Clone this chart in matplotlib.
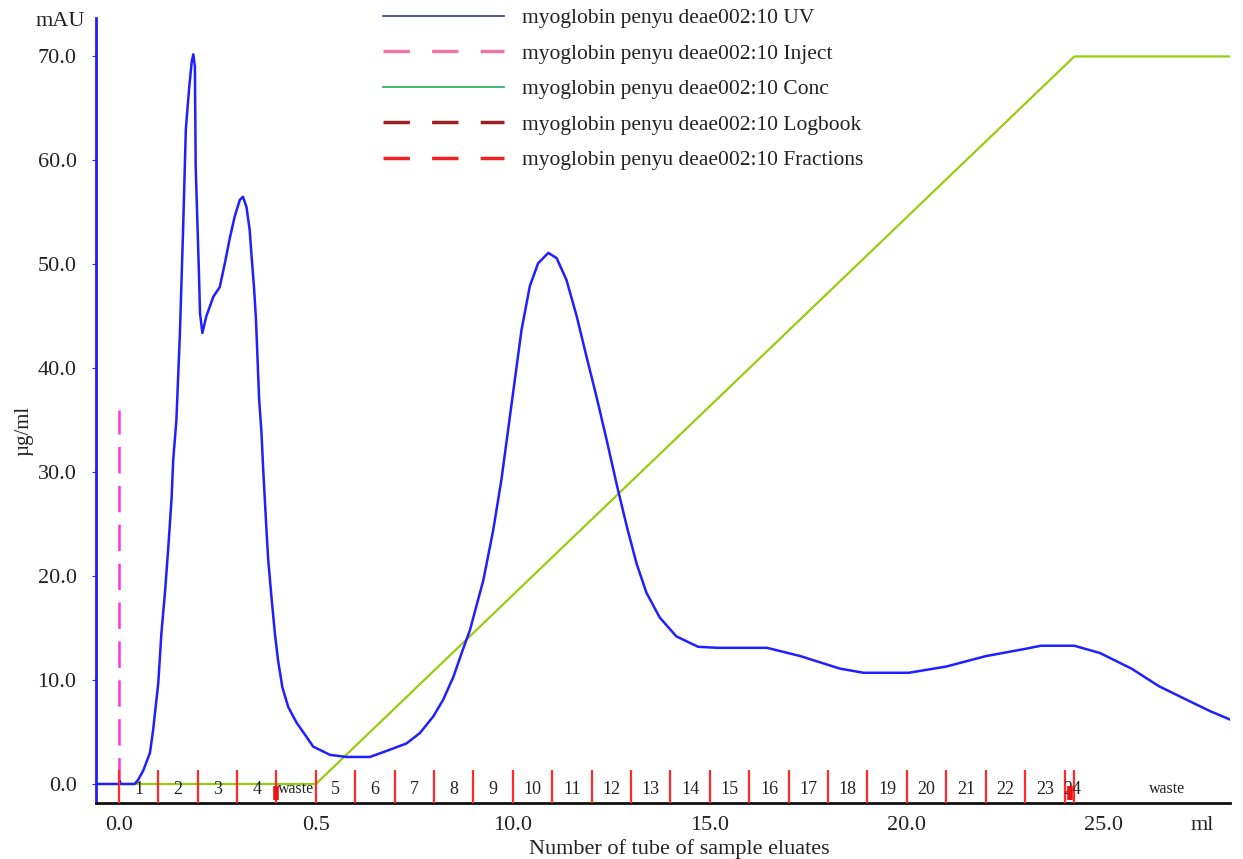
import matplotlib.pyplot as plt
from matplotlib.lines import Line2D

plt.rcParams['font.family'] = ['Liberation Serif', 'DejaVu Serif']
plt.rcParams['lines.scale_dashes'] = False

# UV trace (ml, mAU)
uv_ml = [-0.58, 0.0, 0.02, 0.05, 0.4, 0.49, 0.62, 0.79, 0.87, 1.0, 1.08, 1.17, 1.25, 1.34,
         1.38, 1.46, 1.55, 1.63, 1.70, 1.78, 1.85, 1.89, 1.93, 1.95, 2.03, 2.06, 2.12, 2.22,
         2.40, 2.56, 2.69, 2.82, 2.94, 3.07, 3.15, 3.24, 3.32, 3.37, 3.43, 3.48, 3.56, 3.62,
         3.66, 3.71, 3.75, 3.79, 3.88, 3.96, 4.04, 4.15, 4.30, 4.51, 4.75, 4.93, 5.36, 5.78,
         6.37, 6.88, 7.30, 7.64, 7.98, 8.23, 8.49, 8.70, 8.91, 9.25, 9.50, 9.71, 9.88, 10.05,
         10.22, 10.43, 10.64, 10.90, 11.11, 11.36, 11.62, 11.87, 12.12, 12.38, 12.63, 12.89,
         13.14, 13.39, 13.73, 14.15, 14.7, 15.2, 16.45, 17.3, 18.3, 18.9, 20.05, 21.0, 22.0,
         23.0, 23.4, 24.25, 24.9, 25.7, 26.4, 27.1, 27.7, 28.2]
uv_mau = [0, 0, 0.3, 0, 0, 0.4, 1.3, 3.0, 5.2, 9.7, 14.5, 18.4, 22.5, 27.6,
          31.2, 35.0, 43.4, 53.3, 63.0, 66.8, 69.5, 70.2, 69.0, 59.4, 49.5, 45.3, 43.4, 45.0,
          46.9, 47.8, 50.1, 52.6, 54.6, 56.2, 56.5, 55.5, 53.3, 50.7, 47.8, 44.7, 37.0, 33.8,
          30.5, 27.0, 24.2, 21.6, 17.7, 14.5, 11.9, 9.3, 7.4, 5.9, 4.6, 3.6, 2.8, 2.6,
          2.6, 3.3, 3.9, 4.9, 6.5, 8.1, 10.3, 12.6, 14.8, 19.6, 24.4, 29.3, 34.1, 38.9,
          43.7, 47.9, 50.1, 51.1, 50.6, 48.5, 45.0, 41.1, 37.3, 33.1, 28.9, 24.8,
          21.2, 18.4, 16.0, 14.2, 13.2, 13.1, 13.1, 12.3, 11.1, 10.7, 10.7, 11.3, 12.3,
          13.0, 13.3, 13.3, 12.6, 11.1, 9.4, 8.1, 7.0, 6.2]

# gradient (conc) trace
conc_ml = [0.0, 5.0, 24.25, 28.2]
conc_val = [0, 0, 70, 70]

# injection mark
inject_ml = 0.0
inject_top = 36

# fractions
frac_pos = [0, 1, 2, 3, 4, 5, 6, 7, 8, 9, 10, 11, 12, 13, 14, 15, 16, 17, 18, 19,
            20, 21, 22, 23, 24.0, 24.24]
frac_labels = ['1', '2', '3', '4', 'waste', '5', '6', '7', '8', '9', '10', '11', '12',
               '13', '14', '15', '16', '17', '18', '19', '20', '21', '22', '23', '24', 'waste']
frac_label_x = [0.5, 1.5, 2.5, 3.5, 4.5, 5.5, 6.5, 7.5, 8.5, 9.5, 10.5, 11.5, 12.5,
                13.5, 14.5, 15.5, 16.5, 17.5, 18.5, 19.5, 20.5, 21.5, 22.5, 23.5, 24.2, 26.6]
logbook_ml = [4.0, 24.15]

x_ticks = [0, 5, 10, 15, 20, 25, 27.5]
x_ticklabels = ['0.0', '0.5', '10.0', '15.0', '20.0', '25.0', 'ml']
y_ticks = [0, 10, 20, 30, 40, 50, 60, 70]

fig = plt.figure(figsize=(12.43, 8.59), dpi=100)
ax = fig.add_axes([96 / 1243, 1 - 803 / 859, (1230 - 96) / 1243, (803 - 18) / 859])

# curves
ax.plot(conc_ml, conc_val, color='#99cc11', lw=1.6, zorder=3)
ax.plot(uv_ml, uv_mau, color='#1f1fff', lw=1.8, zorder=4)
ax.plot([inject_ml, inject_ml], [0, inject_top], color='#ff33dd', lw=1.8,
        dashes=(19, 9), zorder=2)

# fraction marks and labels
ax.vlines(frac_pos, -1.83, 1.35, color='#ff2a2a', lw=1.6, zorder=5)
for lx, lab in zip(frac_label_x, frac_labels):
    ax.text(lx, -0.5, lab, ha='center', va='center',
            fontsize=11.5 if lab == 'waste' else 13, color='#222222', zorder=6)
ax.vlines(logbook_ml, -1.5, -0.2, color='#ee1111', lw=4, zorder=6)

ax.set_xlim(-0.58, 28.2)
ax.set_ylim(-1.83, 73.7)

# axes styling
for s in ['top', 'right']:
    ax.spines[s].set_visible(False)
ax.spines['left'].set_color('#1f1fff')
ax.spines['left'].set_linewidth(2)
ax.spines['bottom'].set_color('#111111')
ax.spines['bottom'].set_linewidth(2)

ax.set_yticks(y_ticks)
ax.set_yticklabels(['%.1f' % v for v in y_ticks], fontsize=16, color='#222222')
ax.tick_params(axis='y', length=3, pad=11, color='#1f1fff')
ax.set_xticks(x_ticks)
ax.set_xticklabels(x_ticklabels, fontsize=16, color='#222222')
ax.tick_params(axis='x', length=0, pad=9)

# unit labels
fig.text(60 / 1243, 1 - 21 / 859, 'mAU', ha='center', va='center', fontsize=16, color='#222222')
fig.text(24 / 1243, 1 - 431 / 859, 'µg/ml', ha='center', va='center', rotation=90,
         fontsize=15, color='#222222')
fig.text(679 / 1243, 1 - 849 / 859, 'Number of tube of sample eluates', ha='center',
         va='center', fontsize=16, color='#222222')

# legend
handles = [
    Line2D([], [], color='#333399', lw=1.2),
    Line2D([], [], color='#ee77aa', lw=2.5, dashes=(19, 16)),
    Line2D([], [], color='#22aa55', lw=1.2),
    Line2D([], [], color='#992222', lw=2.5, dashes=(19, 16)),
    Line2D([], [], color='#ee2222', lw=2.5, dashes=(19, 16)),
]
names = ['myoglobin penyu deae002:10 UV', 'myoglobin penyu deae002:10 Inject',
         'myoglobin penyu deae002:10 Conc', 'myoglobin penyu deae002:10 Logbook',
         'myoglobin penyu deae002:10 Fractions']
leg = fig.legend(handles, names, loc='upper left', bbox_to_anchor=(383 / 1243, 1 - 8 / 859),
                 frameon=False, fontsize=15.5, handlelength=5.6, handletextpad=0.85,
                 labelspacing=0.72, borderpad=0, borderaxespad=0)
for t in leg.get_texts():
    t.set_color('#222222')

plt.savefig('out.png', dpi=100, facecolor='white')
